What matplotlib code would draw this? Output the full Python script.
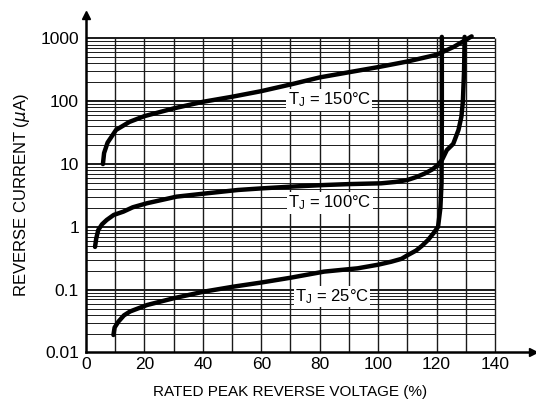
import numpy as np
import matplotlib.pyplot as plt

plt.rcParams['font.family'] = ['Liberation Sans', 'DejaVu Sans']
plt.rcParams['mathtext.default'] = 'regular'

# curves: rated peak reverse voltage (%) vs reverse current (uA)
volt_150 = [5.8, 6.2, 7.4, 10.3, 14.9, 20, 30, 40, 50, 60, 70, 80, 90, 100,
            110, 120, 126, 132]
cur_150 = [10, 15, 22, 35, 47, 58, 77, 98, 118, 145, 185, 240, 290, 350,
           430, 550, 740, 1080]

volt_100 = [3.1, 3.5, 4.2, 5.5, 7.1, 9.5, 12.8, 16, 20.9, 31, 41.5, 52, 60,
            70, 81.5, 90, 101, 106, 110, 113, 116, 118.5, 120.5, 122, 123.5,
            125.7, 127.5, 128.5, 129, 129.4, 129.6]
cur_100 = [0.48, 0.65, 0.89, 1.1, 1.29, 1.55, 1.75, 2.05, 2.38, 3.03, 3.43,
           3.87, 4.1, 4.37, 4.64, 4.8, 4.94, 5.2, 5.58, 6.2, 7.1, 8.2, 9.7,
           12, 16.7, 21, 35, 57, 100, 300, 1060]

volt_25 = [9.4, 9.8, 11.1, 13, 15.1, 20.9, 30, 40.3, 50.6, 60, 70, 81.5, 93,
           100, 104.5, 108, 110.2, 113, 115, 117.1, 119, 120.5, 121.3, 121.7,
           121.8, 121.8]
cur_25 = [0.019, 0.025, 0.031, 0.039, 0.045, 0.057, 0.073, 0.093, 0.112,
          0.13, 0.155, 0.194, 0.219, 0.25, 0.279, 0.31, 0.357, 0.42, 0.5,
          0.62, 0.8, 1.0, 2.0, 5, 50, 1060]

curve_labels = [r'T$_{J}$ = 150°C', r'T$_{J}$ = 100°C', r'T$_{J}$ = 25°C']
label_x = [83.3, 83.5, 84.2]
label_y = [105, 2.4, 0.077]

x_ticks = [0, 20, 40, 60, 80, 100, 120, 140]
y_ticks = [0.01, 0.1, 1, 10, 100, 1000]
y_tick_labels = ['0.01', '0.1', '1', '10', '100', '1000']

fig = plt.figure(figsize=(5.36, 4.04), dpi=100)
ax = fig.add_axes([0.1604, 0.1275, 0.834, 0.8354])
ax.set_yscale('log')
ax.set_xlim(0, 153)
ax.set_ylim(0.01, 2366)

# log-paper grid, limited to the 0..140 / 0.01..1000 box
grid_col = '0.1'
for xv in range(10, 141, 10):
    ax.vlines(xv, 0.01, 1000, color=grid_col, lw=1.0, zorder=1)
for dec in [0.01, 0.1, 1, 10, 100]:
    for m in range(2, 10):
        ax.hlines(dec * m, 0, 140, color=grid_col, lw=0.7, zorder=1)
for dec in [0.1, 1, 10, 100, 1000]:
    ax.hlines(dec, 0, 140, color=grid_col, lw=1.4, zorder=1)

for v, c in [(volt_150, cur_150), (volt_100, cur_100), (volt_25, cur_25)]:
    ax.plot(v, c, color='black', lw=3.2, solid_capstyle='round', zorder=3)

for txt, lx, ly in zip(curve_labels, label_x, label_y):
    ax.text(lx, ly, txt, fontsize=12, ha='center', va='center', zorder=4,
            bbox=dict(facecolor='white', edgecolor='none', pad=1.0))

for s in ['top', 'right']:
    ax.spines[s].set_visible(False)
for s in ['left', 'bottom']:
    ax.spines[s].set_linewidth(1.8)
ax.plot(1, 0, '>k', transform=ax.transAxes, clip_on=False, ms=6)
ax.plot(0, 1, '^k', transform=ax.transAxes, clip_on=False, ms=6)

ax.set_xticks(x_ticks)
ax.set_yticks(y_ticks)
ax.set_yticklabels(y_tick_labels)
ax.yaxis.set_minor_locator(plt.NullLocator())
ax.tick_params(axis='both', length=0, labelsize=12.5)
ax.tick_params(axis='x', pad=3)
ax.tick_params(axis='y', pad=5)

# labels centred on the 0..140 / 0.01..1000 grid box, not the whole axes
ax.set_xlabel('RATED PEAK REVERSE VOLTAGE (%)', fontsize=11)
ax.xaxis.set_label_coords(140 / 153 / 2, -0.097)
ax.set_ylabel(r'REVERSE CURRENT ($\mathit{\mu}$A)', fontsize=12)
ax.yaxis.set_label_coords(-0.12, 5 / 5.374 / 2)

fig.savefig('out.png', dpi=100)
